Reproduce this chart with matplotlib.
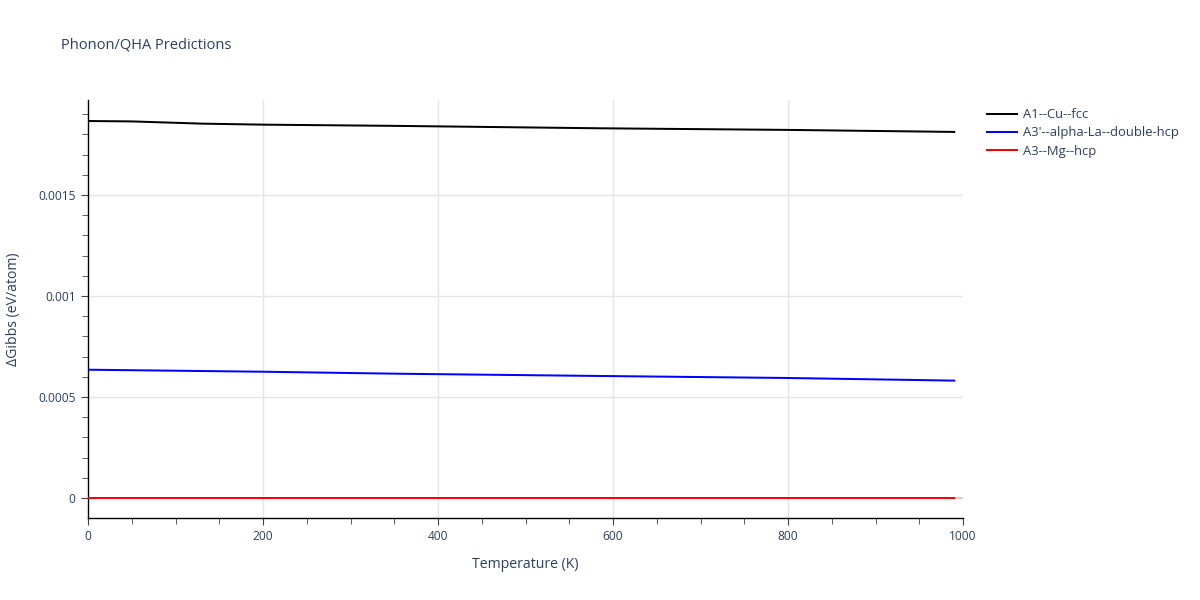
import numpy as np
import matplotlib.pyplot as plt
from matplotlib.ticker import MultipleLocator, FuncFormatter

# data
temp_cu = [0, 50, 130, 200, 350, 585, 800, 990]
gibbs_cu = [0.001866, 0.001864, 0.001853, 0.001848, 0.001842, 0.001830, 0.001822, 0.001812]

temp_la = [0, 200, 357, 585, 800, 990]
gibbs_la = [0.000635, 0.000625, 0.000615, 0.000604, 0.000594, 0.000581]

temp_mg = [0, 990]
gibbs_mg = [0.0, 0.0]

labels = ["A1--Cu--fcc", "A3'--alpha-La--double-hcp", "A3--Mg--hcp"]
colors = ["black", "blue", "red"]

TXT = "#2a3f5f"
PX = 0.72  # px -> pt at dpi 100

plt.rcParams['font.family'] = ['Open Sans', 'DejaVu Sans']

fig = plt.figure(figsize=(12, 6), dpi=100)
ax = fig.add_axes([88/1200, 1-518/600, (963-88)/1200, (518-100)/600])

# plotly-like zero line
ax.axhline(0, color="#d0d0d0", lw=1.4, zorder=1)

for t, g, lab, c in zip([temp_cu, temp_la, temp_mg], [gibbs_cu, gibbs_la, gibbs_mg], labels, colors):
    ax.plot(t, g, color=c, lw=2*PX, label=lab, zorder=3)

ax.set_xlim(0, 1000)
ax.set_ylim(-0.000099, 0.00197)

ax.xaxis.set_major_locator(MultipleLocator(200))
ax.xaxis.set_minor_locator(MultipleLocator(50))
ax.yaxis.set_major_locator(MultipleLocator(0.0005))
ax.yaxis.set_minor_locator(MultipleLocator(0.0001))

def yfmt(v, pos):
    if abs(v) < 1e-12:
        return "0"
    return ("%.4f" % v).rstrip("0")

ax.yaxis.set_major_formatter(FuncFormatter(yfmt))

ax.grid(True, which="major", color="#e5e5e5", lw=1, zorder=0)
ax.set_axisbelow(True)
fig.canvas.draw()
# no gridlines on the plot edges
for tick in ax.xaxis.get_major_ticks():
    if tick.get_loc() <= 0 or tick.get_loc() >= 1000:
        tick.gridline.set_visible(False)

for s in ["top", "right"]:
    ax.spines[s].set_visible(False)
for s in ["left", "bottom"]:
    ax.spines[s].set_color("black")
    ax.spines[s].set_linewidth(1)

ax.tick_params(which="both", direction="out", color="#444444", labelcolor=TXT,
               labelsize=12*PX)
ax.tick_params(which="major", length=5, pad=4)
ax.tick_params(which="minor", length=4)

ax.set_xlabel("Temperature (K)", fontsize=14*PX, color=TXT, labelpad=10)
ax.set_ylabel("ΔGibbs (eV/atom)", fontsize=14*PX, color=TXT, labelpad=12)

fig.text(61/1200, 1-45/600, "Phonon/QHA Predictions", fontsize=14.6*PX, color=TXT,
         va="center", ha="left")

leg = ax.legend(loc="upper left", bbox_to_anchor=(982/1200, 1-103/600),
                bbox_transform=fig.transFigure, frameon=False,
                fontsize=13*PX, handlelength=2.3, handletextpad=0.45,
                labelspacing=0.4, borderaxespad=0)
for txt in leg.get_texts():
    txt.set_color(TXT)

fig.savefig("out.png", dpi=100)
